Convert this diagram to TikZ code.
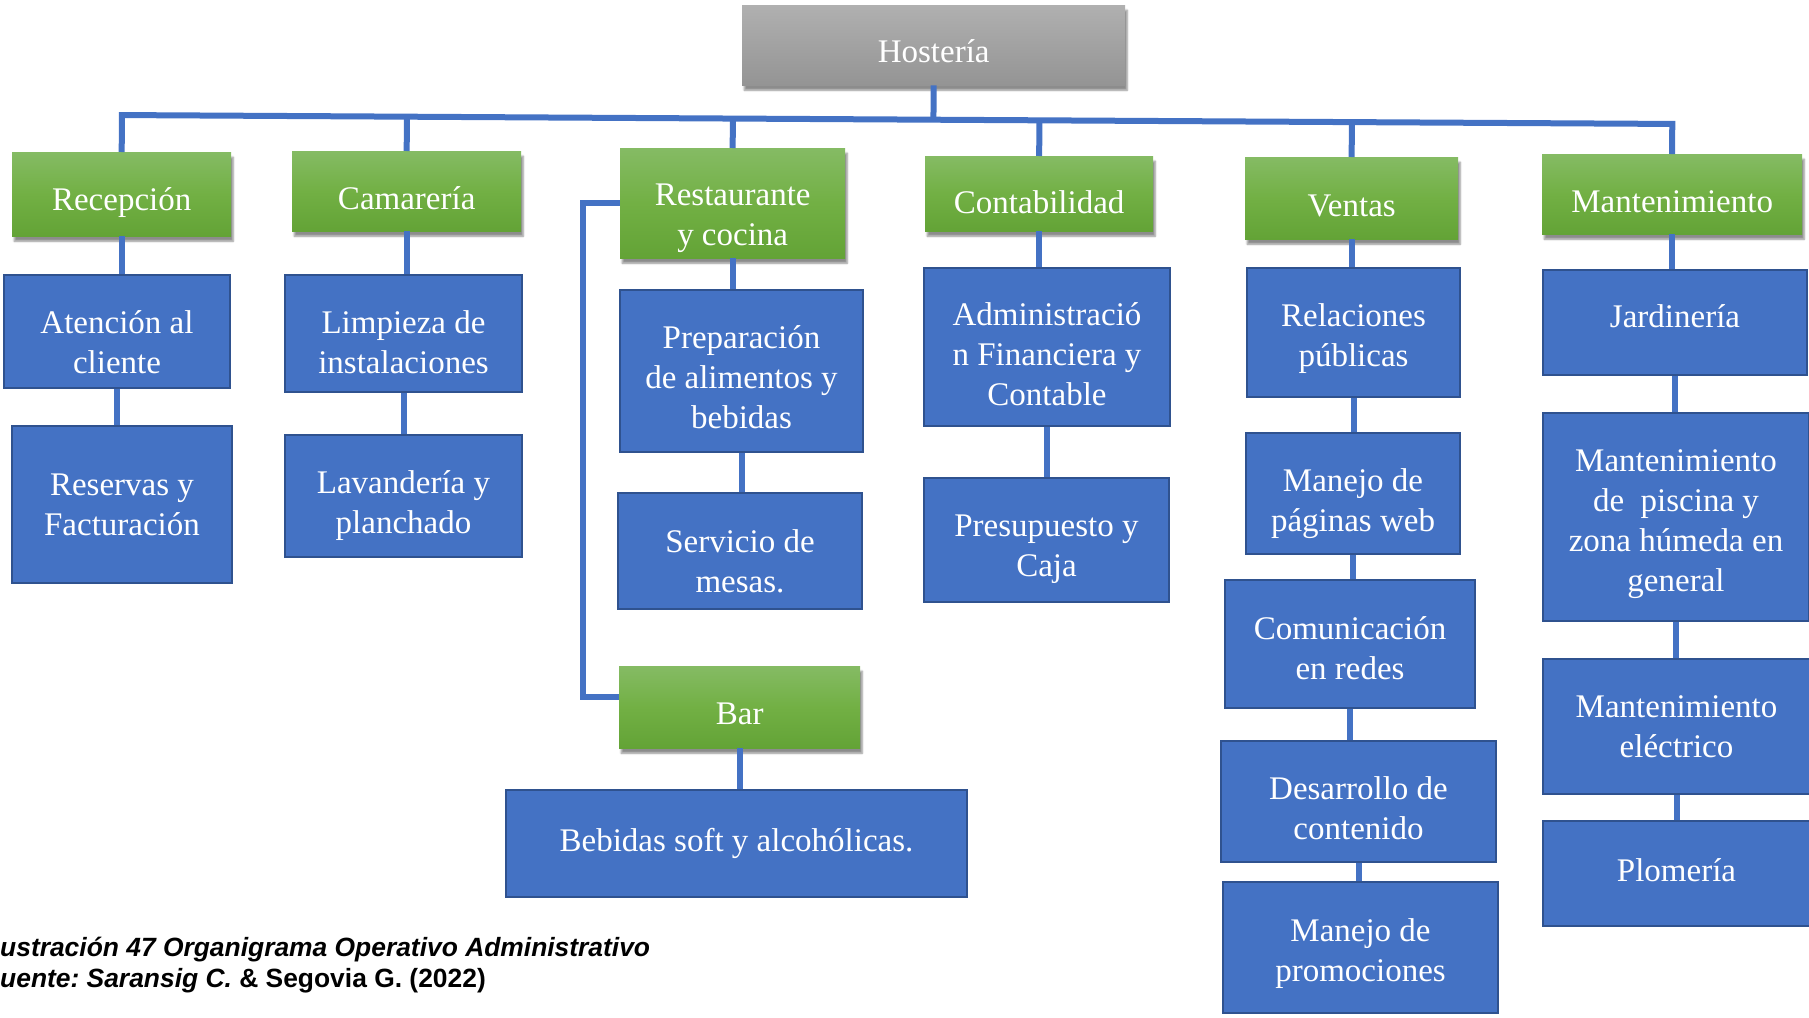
\documentclass[tikz,border=0pt]{standalone}
\usepackage{fontspec}
\setmainfont{Liberation Serif}
\newfontfamily\capfont{Liberation Sans}
\usetikzlibrary{calc,shadows.blur}
\frenchspacing

\definecolor{unitfill}{RGB}{68,114,196}
\definecolor{unitedge}{RGB}{47,82,143}
\definecolor{depttop}{RGB}{133,187,100}
\definecolor{deptmid}{RGB}{114,176,68}
\definecolor{deptbot}{RGB}{99,163,54}
\definecolor{hoteltop}{RGB}{176,176,176}
\definecolor{hotelbot}{RGB}{148,148,148}

% strut that pushes the text of a box down
\newcommand\sinkby[1]{\rule{0pt}{#1}}

\begin{document}
\begin{tikzpicture}[
  x=1pt, y=-1pt,
  font=\fontsize{33}{40}\selectfont,
  wire/.style={draw=unitfill, line width=6pt},
  unit/.style={draw=unitedge, line width=2pt, fill=unitfill, text=white, align=center,
    anchor=north west, inner sep=0pt},
  dept/.style={top color=depttop, bottom color=deptbot, middle color=deptmid, text=white,
    align=center, anchor=north west, inner sep=0pt,
    blur shadow={shadow xshift=2pt, shadow yshift=-5pt, shadow opacity=45, shadow blur steps=6}},
  hotel/.style={dept, top color=hoteltop, bottom color=hotelbot, middle color=hoteltop!50!hotelbot},
  rise/.style={execute at end node={\rule[-#1]{0pt}{#1}}},
  note/.style={anchor=base west, inner sep=0pt, font=\capfont\fontsize{26.4}{31}\selectfont\bfseries}
]
\useasboundingbox (0,0) rectangle (1809,1017);

% top and areas
\node[hotel, minimum width=383pt, minimum height=80pt] (host) at (742,5) {\sinkby{35pt}Hostería};

\node[dept, minimum width=219pt, minimum height=84pt] (rec) at (12,152) {\sinkby{39pt}Recepción};
\node[dept, minimum width=229pt, minimum height=80pt] (cam) at (292,151) {\sinkby{37pt}Camarería};
\node[dept, minimum width=225pt, minimum height=110pt] (rest) at (620,148) {\sinkby{51pt}Restaurante\\y cocina};
\node[dept, minimum width=228pt, minimum height=75pt] (cont) at (925,156) {\sinkby{39pt}Contabilidad};
\node[dept, minimum width=213pt, minimum height=82pt] (ven) at (1245,157) {\sinkby{37pt}Ventas};
\node[dept, minimum width=260pt, minimum height=80pt] (mant) at (1542,154) {\sinkby{37pt}Mantenimiento};
\node[dept, minimum width=241pt, minimum height=82pt] (bar) at (619,666) {\sinkby{35pt}Bar};

% tasks
\node[unit, minimum width=226pt, minimum height=113pt] (aten) at (3,274) {\sinkby{45pt}Atención al\\cliente};
\node[unit, minimum width=220pt, minimum height=157pt] (res) at (11,425) {Reservas y\\Facturación};
\node[unit, minimum width=237pt, minimum height=117pt] (limp) at (284,274) {\sinkby{41pt}Limpieza de\\instalaciones};
\node[unit, minimum width=237pt, minimum height=122pt] (lav) at (284,434) {\sinkby{43pt}Lavandería y\\planchado};
\node[unit, minimum width=243pt, minimum height=162pt] (prep) at (619,289) {\sinkby{35pt}Preparación\\de alimentos y\\bebidas};
\node[unit, minimum width=244pt, minimum height=116pt] (serv) at (617,492) {\sinkby{43pt}Servicio de\\mesas.};
\node[unit, rise=4pt, minimum width=461pt, minimum height=107pt] (beb) at (505,789) {Bebidas soft y alcohólicas.};
\node[unit, minimum width=246pt, minimum height=158pt] (adm) at (923,267) {\sinkby{37pt}Administració\\n Financiera y\\Contable};
\node[unit, minimum width=245pt, minimum height=124pt] (pres) at (923,477) {\sinkby{41pt}Presupuesto y\\Caja};
\node[unit, minimum width=213pt, minimum height=129pt] (rel) at (1246,267) {\sinkby{35pt}Relaciones\\públicas};
\node[unit, minimum width=214pt, minimum height=121pt] (pag) at (1245,432) {\sinkby{43pt}Manejo de\\páginas web};
\node[unit, minimum width=250pt, minimum height=128pt] (com) at (1224,579) {\sinkby{31pt}Comunicación\\en redes};
\node[unit, minimum width=275pt, minimum height=121pt] (des) at (1220,740) {\sinkby{37pt}Desarrollo de\\contenido};
\node[unit, minimum width=275pt, minimum height=131pt] (prom) at (1222,881) {\sinkby{35pt}Manejo de\\promociones};
\node[unit, rise=12pt, minimum width=264pt, minimum height=105pt] (jar) at (1542,269) {Jardinería};
\node[unit, minimum width=266pt, minimum height=208pt] (pis) at (1542,412) {\sinkby{37pt}Mantenimiento\\de\ \ piscina y\\zona húmeda en\\general};
\node[unit, minimum width=267pt, minimum height=135pt] (ele) at (1542,658) {Mantenimiento\\eléctrico};
\node[unit, rise=6pt, minimum width=267pt, minimum height=105pt] (plo) at (1542,820) {Plomería};

% caption
\node[note] (cap1) at (0,956) {\itshape ustración 47 Organigrama Operativo Administrativo};
\node[note] (cap2) at (0,987) {\itshape uente: Saransig C.\upshape{} \& Segovia G. (2022)};

% bus
\coordinate (busL) at (113,115);
\coordinate (busR) at (1677,124);
\draw[wire, line join=miter] (rec.north) -- ($(busL)!(rec.north)!(busR)$)
  -- ($(busL)!(mant.north)!(busR)$) -- (mant.north);
\draw[wire] (host.south) -- ($(busL)!(host.south)!(busR)$);
\foreach \n in {cam,rest,cont,ven}
  \draw[wire] (\n.north) -- ($(busL)!(\n.north)!(busR)$);

% columns
\foreach \a/\b in {rec/aten, aten/res, cam/limp, limp/lav, rest/prep, prep/serv,
    cont/adm, adm/pres, ven/rel, rel/pag, pag/com, com/des, des/prom,
    mant/jar, jar/pis, pis/ele, ele/plo, bar/beb}
  \draw[wire] (\a.south) -- (\a.south |- \b.north);

% bar branch
\coordinate (bend) at (583,0);
\draw[wire] (rest.west) -- (rest.west -| bend) |- ([yshift=10pt]bar.west);
\end{tikzpicture}
\end{document}
